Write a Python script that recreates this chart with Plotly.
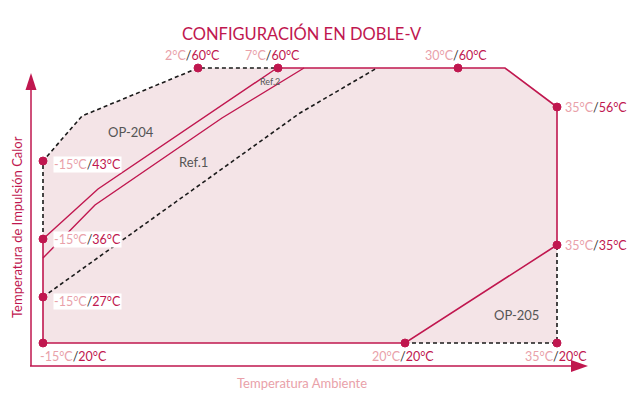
import plotly.graph_objects as go

# schematic diagram positions (the original chart is not to scale)
MAG = "#c0174f"
PINK = "#e9a1a9"
FILL = "#f4e4e7"
DARK = "#333333"

# labelled operating points: ambient temp / supply temp
pt_amb = [-15, -15, -15, -15, 2, 7, 30, 35, 35, 35, 20]
pt_sup = [20, 27, 36, 43, 60, 60, 60, 56, 35, 20, 20]
pt_x = [43, 43, 43, 43, 198, 278, 458, 557, 557, 557, 405]
pt_y = [343, 297, 239, 161, 68, 68, 68, 107, 245, 343, 343]
# label placement: (dx, dy, anchor, white box)
lab_pos = [(-4, 13, "left", False), (10, 4, "left", True), (10, 0, "left", True),
           (10, 3, "left", True), (-6, -13, "center", False), (-6, -13, "center", False),
           (-2, -13, "center", False), (7, 0, "left", False), (7, 0, "left", False),
           (-33, 13, "left", False), (-34, 13, "left", False)]

# envelope of the working area
env_x = [43, 43, 82, 198, 505, 557, 557, 43]
env_y = [343, 161, 116, 68, 68, 107, 343, 343]

solid_x = [278, 505, 557, 557, 405, 43, 43]
solid_y = [68, 68, 107, 245, 343, 343, 239]
dash_x = [43, 43, 82, 198, 278]
dash_y = [239, 161, 116, 68, 68]
op205_x = [405, 557, 557]
op205_y = [343, 343, 245]
diag_x = [43, 300, 377]
diag_y = [297, 113, 68]
ref2_x = [43, 98, 277]
ref2_y = [239, 189, 68]
ref1_x = [43, 95, 222, 304]
ref1_y = [258, 205, 118, 68]

fig = go.Figure()
fig.add_scatter(x=env_x, y=env_y, fill="toself", fillcolor=FILL, mode="none", hoverinfo="skip")
fig.add_scatter(x=solid_x, y=solid_y, mode="lines", line=dict(color=MAG, width=1.6))
for xs, ys in [(dash_x, dash_y), (op205_x, op205_y), (diag_x, diag_y)]:
    fig.add_scatter(x=xs, y=ys, mode="lines", line=dict(color="#1a1a1a", width=1.6, dash="4px,3px"))
for xs, ys in [(ref2_x, ref2_y), (ref1_x, ref1_y)]:
    fig.add_scatter(x=xs, y=ys, mode="lines", line=dict(color=MAG, width=1.4))
fig.add_scatter(x=pt_x, y=pt_y, mode="markers",
                marker=dict(color=MAG, size=8, line=dict(color=MAG, width=1)))

FONT = "Lato"
for a, s, x, y, (dx, dy, anc, box) in zip(pt_amb, pt_sup, pt_x, pt_y, lab_pos):
    txt = (f"<span style='color:{PINK}'>{a}°C</span><span style='color:{DARK}'>/</span>"
           f"<span style='color:{MAG}'>{s}°C</span>")
    fig.add_annotation(x=x + dx, y=y + dy, text=txt, showarrow=False, xanchor=anc,
                       yanchor="middle", font=dict(family=FONT, size=12.5),
                       bgcolor="white" if box else None, borderpad=0)

# area names
names = ["OP-204", "Ref.1", "Ref.2", "OP-205"]
name_x = [131, 193, 270, 516]
name_y = [132, 162, 81, 315]
name_size = [13, 13, 9, 13]
for n, x, y, sz in zip(names, name_x, name_y, name_size):
    fig.add_annotation(x=x, y=y, text=n, showarrow=False, font=dict(family=FONT, size=sz, color="#555555"))

# axis arrows
fig.add_shape(type="path", path="M 31 366 L 31 86 M 30 366 L 575 366", line=dict(color=MAG, width=1.5))
fig.add_shape(type="path", path="M 31 73 L 25.5 90 L 36.5 90 Z", fillcolor=MAG, line=dict(width=0))
fig.add_shape(type="path", path="M 588 366 L 571 360 L 571 372 Z", fillcolor=MAG, line=dict(width=0))

fig.add_annotation(x=302, y=383, text="Temperatura Ambiente", showarrow=False,
                   font=dict(family=FONT, size=13, color=PINK))
fig.add_annotation(x=17, y=227, text="Temperatura de Impulsión Calor", showarrow=False, textangle=-90,
                   font=dict(family=FONT, size=13, color=MAG))
fig.add_annotation(x=302, y=33, text="CONFIGURACIÓN EN DOBLE-V", showarrow=False,
                   font=dict(family=FONT, size=16.5, color=MAG))

# page has an 8px body margin; keep the figure inside the window so nothing scrolls
fig.update_layout(
    width=620, height=384, margin=dict(l=0, r=0, t=0, b=0),
    paper_bgcolor="white", plot_bgcolor="white", showlegend=False,
    xaxis=dict(range=[8, 628], visible=False, fixedrange=True),
    yaxis=dict(range=[392, 8], visible=False, fixedrange=True),
)
fig.write_html("out.html")
